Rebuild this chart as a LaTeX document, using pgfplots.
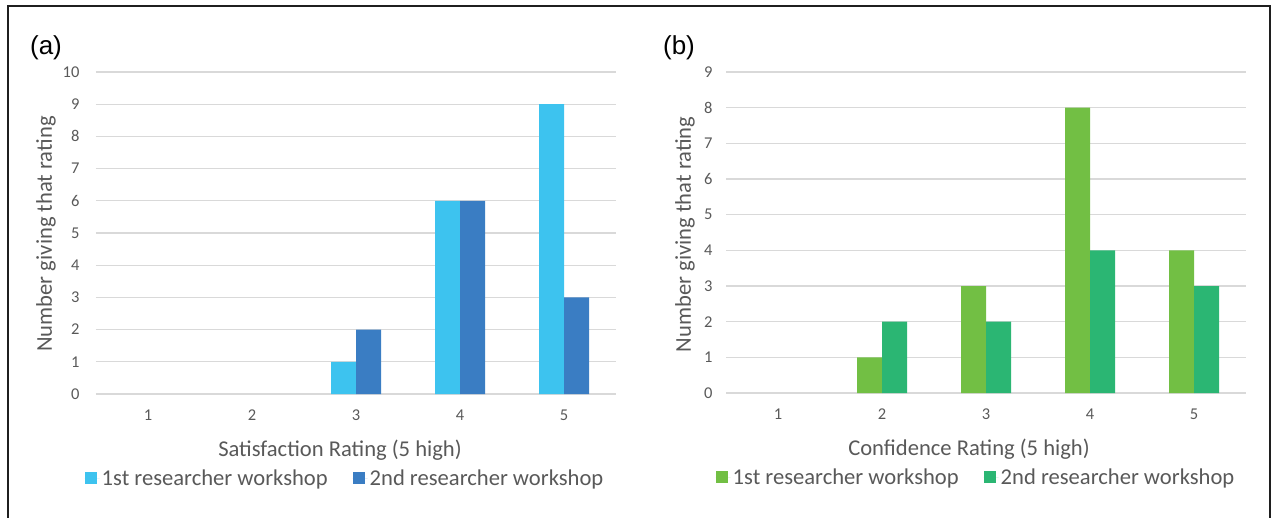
\documentclass[border=0pt]{standalone}
\usepackage{fontspec}
\setmainfont{Carlito}
\newfontfamily\arialfont{Liberation Sans}
\usepackage{pgfplots}
\pgfplotsset{compat=1.18}
\definecolor{txtgray}{HTML}{595959}
\definecolor{gridgray}{HTML}{D9D9D9}
\definecolor{lblue}{HTML}{3DC3EF}
\definecolor{dblue}{HTML}{3A7DC3}
\definecolor{lgreen}{HTML}{72BF44}
\definecolor{tgreen}{HTML}{2BB673}
\pgfplotsset{
  mybar/.style={
    scale only axis, width=520pt, height=322pt,
    xmin=0.5, xmax=5.5, ymin=0,
    ybar=0pt, bar width=25pt,
    xtick={1,2,3,4,5},
    axis x line*=bottom, axis y line*=left,
    axis line style={draw=none}, major tick style={draw=none},
    ymajorgrids, grid style={line width=1.3pt, color=gridgray},
    /pgf/number format/assume math mode=true,
    tick label style={font=\fontsize{16.5}{18}\selectfont, text=txtgray},
    xticklabel style={yshift=-8pt},
    label style={font=\fontsize{22.6}{25}\selectfont, text=txtgray},
    xlabel style={at={(axis description cs:0.5,0)}, anchor=center, yshift=-56pt},
    ylabel style={at={(axis description cs:0,0.5)}, anchor=center},
    legend style={at={(axis description cs:0.5,0)}, anchor=center, yshift=-84pt,
      draw=none, fill=none, font=\fontsize{22.6}{25}\selectfont, text=txtgray,
      /tikz/every even column/.append style={column sep=23pt}},
    legend columns=2,
  },
  sq/.style={legend image code/.code={\fill[##1] (0pt,-6pt) rectangle (12pt,6pt); \path (0pt,0pt) -- (15pt,0pt);}},
}
\begin{document}
\begin{tikzpicture}
\useasboundingbox (0pt,0pt) rectangle (1274pt,517pt);
\draw[line width=2pt, color=black!88] (8pt,-5pt) -- (8pt,511pt) -- (1270pt,511pt) -- (1270pt,-5pt);
\node[font=\arialfont\fontsize{26}{28}\selectfont, anchor=center] at (46pt,469pt) {(a)};
\node[font=\arialfont\fontsize{26}{28}\selectfont, anchor=center] at (679pt,469pt) {(b)};
\begin{axis}[mybar, at={(96pt,123pt)}, anchor=south west,
  ymax=10, ytick={0,1,...,10},
  yticklabel style={xshift=-13pt},
  xlabel={Satisfaction Rating (5 high)},
  ylabel={Number giving that rating},
  xlabel style={xshift=-16pt},
  ylabel style={yshift=50pt, xshift=-1pt},
  legend style={xshift=-11pt}]
\addplot[fill=lblue, draw=none, sq] coordinates {(3,1) (4,6) (5,9)};
\addplot[fill=dblue, draw=none, sq] coordinates {(3,2) (4,6) (5,3)};
\legend{1st researcher workshop, 2nd researcher workshop}
\end{axis}
\begin{axis}[mybar, at={(726pt,124pt)}, anchor=south west, height=321pt,
  ymax=9, ytick={0,1,...,9},
  yticklabel style={xshift=-10pt},
  xlabel={Confidence Rating (5 high)},
  ylabel={Number giving that rating},
  xlabel style={xshift=-17pt},
  ylabel style={yshift=41pt, xshift=-2pt},
  legend style={xshift=-10pt}]
\addplot[fill=lgreen, draw=none, sq] coordinates {(2,1) (3,3) (4,8) (5,4)};
\addplot[fill=tgreen, draw=none, sq] coordinates {(2,2) (3,2) (4,4) (5,3)};
\legend{1st researcher workshop, 2nd researcher workshop}
\end{axis}
\end{tikzpicture}
\end{document}
